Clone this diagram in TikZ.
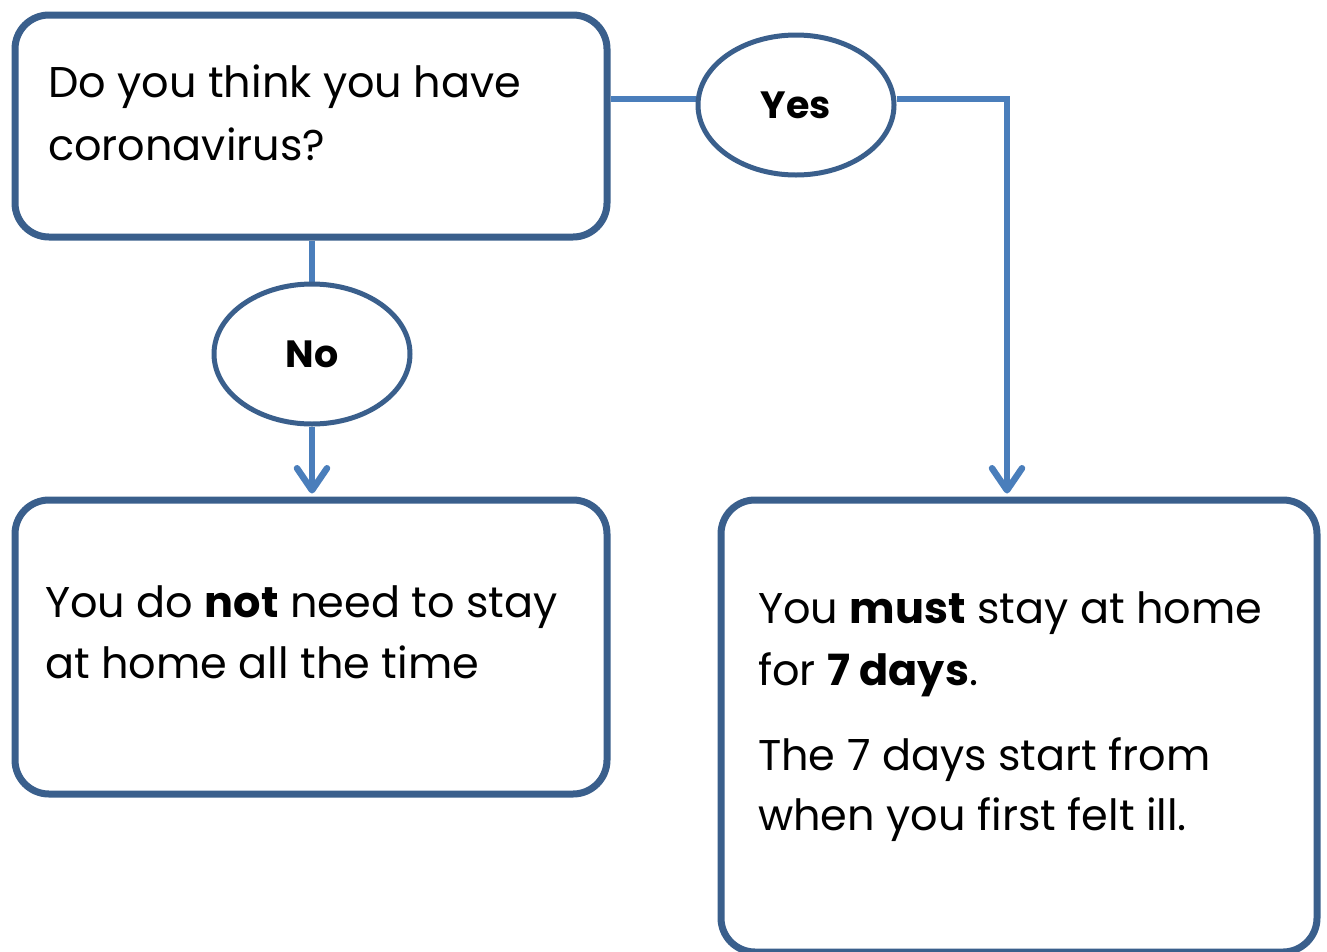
\documentclass[tikz,border=0pt]{standalone}
\usepackage{fontspec}
\setmainfont{Poppins}
\usetikzlibrary{arrows.meta,shapes.geometric,backgrounds}
\definecolor{boxblue}{RGB}{58,95,140}
\definecolor{lineblue}{RGB}{74,126,187}
\begin{document}
\begin{tikzpicture}[x=1pt,y=-1pt,
  box/.style={draw=boxblue,line width=7pt,rounded corners=34pt,rectangle,fill=white,inner sep=0pt},
  oval/.style={draw=boxblue,line width=5pt,ellipse,fill=white,inner sep=0pt,minimum width=196pt,minimum height=140pt,font=\fontsize{38}{40}\selectfont\bfseries},
  conn/.style={draw=lineblue,line width=6.5pt},
  arr/.style={conn,-{Straight Barb[length=22pt,width=30pt,round]}},
  txt/.style={anchor=base west,inner sep=0pt,font=\fontsize{43}{50}\selectfont}]
\useasboundingbox (0,0) rectangle (1327,951);
\node[box,minimum width=592pt,minimum height=222pt] (q) at (311,126) {};
\node[box,minimum width=592pt,minimum height=294pt] (no) at (311,647) {};
\node[box,minimum width=596pt,minimum height=452pt] (yes) at (1019,726) {};
\node[oval] (oy) at (796,105) {Yes};
\node[oval] (on) at (312,354) {No};
\node[txt] (q1) at (48,97) {Do you think you have};
\node[txt] (q2) at (48,160) {coronavirus?};
\node[txt] (n1) at (45,617) {You do \textbf{not} need to stay};
\node[txt] (n2) at (45,678) {at home all the time};
\node[txt] (y1) at (758,623) {You \textbf{must} stay at home};
\node[txt] (y2) at (758,685) {for \textbf{7 days}.};
\node[txt] (y3) at (758,770) {The 7 days start from};
\node[txt] (y4) at (758,830) {when you first felt ill.};
\begin{scope}[on background layer]
\draw[conn] ([yshift=6pt]oy.west) -- ([yshift=6pt]oy.west -| q.east);
\draw[conn] (q.south -| on.north) -- (on.north);
\draw[arr] ([yshift=6pt]oy.east) -| ([yshift=3pt]yes.north -| 1007,0);
\draw[arr] (on.south) -- ([yshift=3pt]no.north -| on.south);
\end{scope}
\end{tikzpicture}
\end{document}
